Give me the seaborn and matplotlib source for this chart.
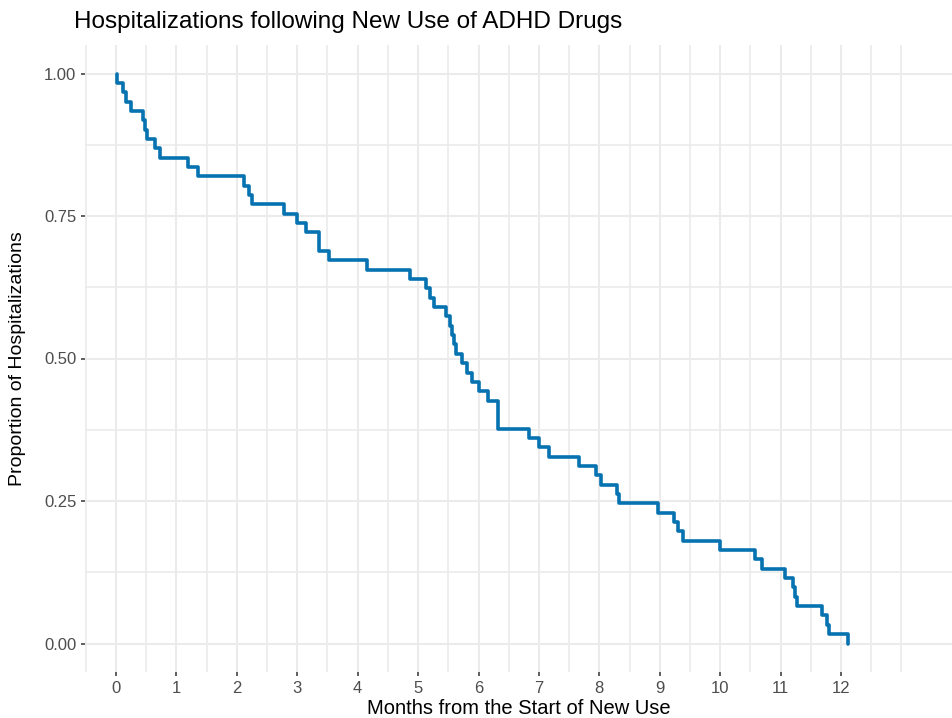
import numpy as np
import pandas as pd
import matplotlib
matplotlib.use("Agg")
import matplotlib.pyplot as plt
from matplotlib.ticker import FixedLocator
import seaborn as sns

# Event times (months); every patient had the event
event_months = [
    0.01, 0.12, 0.17, 0.25, 0.45, 0.48, 0.51, 0.64, 0.72, 1.19,
    1.35, 2.12, 2.20, 2.25, 2.78, 2.99, 3.15, 3.36, 3.36, 3.53,
    4.16, 4.86, 5.13, 5.20, 5.26, 5.46, 5.52, 5.56, 5.59, 5.63,
    5.73, 5.81, 5.90, 6.00, 6.16, 6.33, 6.33, 6.33, 6.84, 7.00,
    7.17, 7.66, 7.94, 8.02, 8.30, 8.33, 8.97, 9.24, 9.30, 9.39,
    10.00, 10.58, 10.70, 11.07, 11.21, 11.24, 11.27, 11.68, 11.76, 11.80,
    12.11,
]
x_ticks = list(range(0, 13))
y_ticks = [0.00, 0.25, 0.50, 0.75, 1.00]
y_tick_labels = ["0.00", "0.25", "0.50", "0.75", "1.00"]

title = "Hospitalizations following New Use of ADHD Drugs"
x_label = "Months from the Start of New Use"
y_label = "Proportion of Hospitalizations"

df = pd.DataFrame({"months": event_months})

sns.set_theme(style="white")
plt.rcParams["font.family"] = ["Liberation Sans", "DejaVu Sans"]

W, H = 952, 718
fig = plt.figure(figsize=(W / 100, H / 100), dpi=100)
ax = fig.add_axes([85 / W, 1 - 672 / H, (W - 85) / W, (672 - 45) / H])

sns.ecdfplot(data=df, x="months", complementary=True, ax=ax,
             color="#0672B0", linewidth=2.6)

x0 = 0 - 31 / 60.42
x1 = (W - 116) / 60.42
ax.set_xlim(x0, x1)
ax.set_ylim(-0.05, 1.05)

ax.set_xticks(x_ticks)
ax.set_xticklabels([str(t) for t in x_ticks])
ax.set_yticks(y_ticks)
ax.set_yticklabels(y_tick_labels)

minor_x = [v for v in np.arange(-0.5, 13.01, 0.5) if v not in x_ticks]
ax.xaxis.set_minor_locator(FixedLocator(minor_x))
ax.yaxis.set_minor_locator(FixedLocator([0.125, 0.375, 0.625, 0.875]))

ax.grid(which="major", color="#EBEBEB", linewidth=1.5)
ax.grid(which="minor", color="#EBEBEB", linewidth=1.2)
ax.set_axisbelow(True)
for s in ax.spines.values():
    s.set_visible(False)

ax.tick_params(axis="both", which="major", length=3.2, width=1.1,
               color="#333333", labelcolor="#4D4D4D", labelsize=12, pad=3,
               bottom=True, left=True)
ax.tick_params(axis="both", which="minor", length=0)

ax.set_xlabel(x_label, fontsize=14.5, color="black", va="center")
ax.set_ylabel(y_label, fontsize=14, color="black", va="center")
ax.xaxis.set_label_coords(0.5, -(709 - 672) / (672 - 45))
ax.yaxis.set_label_coords((18 - 85) / (W - 85), 0.5)

fig.text(74 / W, 1 - 22 / H, title, fontsize=17.5, ha="left", va="center",
         color="black")

fig.savefig("out.png", dpi=100)
